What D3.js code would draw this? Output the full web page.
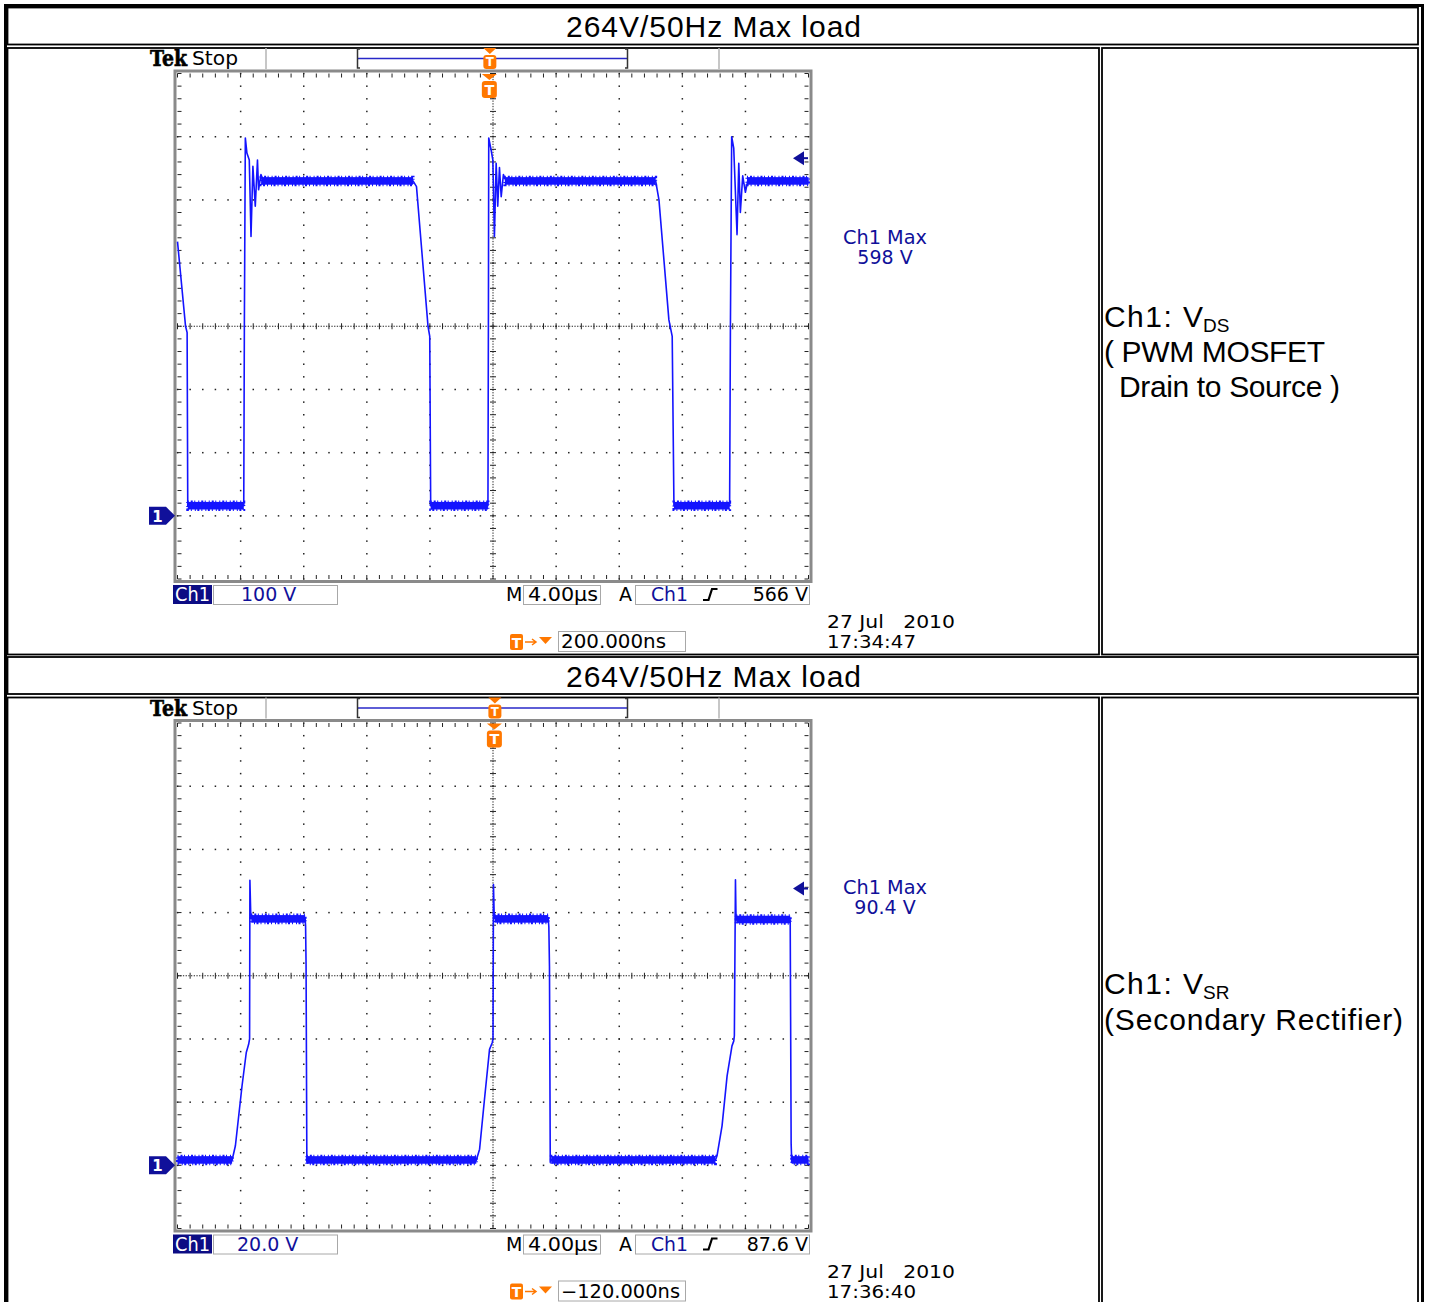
<!DOCTYPE html>
<html>
<head>
<meta charset="utf-8">
<script src="https://cdnjs.cloudflare.com/ajax/libs/d3/7.8.5/d3.min.js"></script>
<style>
  body { margin: 0; background: #fff; }
  svg { display: block; }
</style>
</head>
<body>
<script>
// titles of the two table rows
var rowTitles = ["264V/50Hz Max load", "264V/50Hz Max load"];

// traces: [time in µs from left edge of screen (4 µs/div), volts]
var vdsTrace = [
  [0.00, 434], [0.51, 300], [0.61, 290], [0.65, 16],
  [4.20, 16], [4.24, 310], [4.30, 598], [4.40, 574], [4.55, 563], [4.66, 442],
  [4.78, 553], [4.93, 490], [5.07, 563], [5.14, 516], [5.29, 540], [5.45, 530],
  [14.93, 530], [15.15, 521], [15.88, 300], [15.99, 284], [16.05, 16],
  [19.68, 16], [19.71, 320], [19.73, 598], [19.88, 579], [19.99, 563], [20.09, 442],
  [20.20, 558], [20.30, 490], [20.41, 551], [20.52, 505], [20.66, 540], [20.83, 530],
  [30.31, 530], [30.52, 500], [31.15, 310], [31.36, 284], [31.47, 16],
  [35.00, 16], [35.05, 300], [35.13, 600], [35.26, 582], [35.47, 445], [35.58, 558],
  [35.68, 480], [35.83, 538], [36.00, 512], [36.15, 530],
  [40.00, 530]
];
// noisy flat parts: [t0, t1, vLow, vHigh]
var vdsBands = [
  [0.65, 4.20, 10, 22], [16.05, 19.68, 10, 22], [31.47, 35.00, 10, 22],
  [5.30, 14.93, 524, 536], [20.75, 30.31, 524, 536], [36.10, 40.00, 524, 536]
];

var vsrTrace = [
  [0.00, 1.6], [3.46, 1.6], [3.67, 6.2], [4.09, 25.1], [4.36, 35.7], [4.51, 38.3],
  [4.57, 40.0], [4.59, 90.2], [4.64, 80.0], [4.68, 78.3],
  [8.09, 78.3], [8.12, 75.7], [8.15, 63.6], [8.20, 1.0], [8.25, 1.6],
  [18.94, 1.6], [19.15, 5.1], [19.46, 20.9], [19.78, 36.7], [19.95, 38.8],
  [20.00, 40.0], [20.03, 88.9], [20.07, 80.0], [20.10, 78.3],
  [23.50, 78.3], [23.54, 75.5], [23.58, 63.0], [23.63, 1.0], [23.70, 1.6],
  [34.10, 1.6], [34.20, 3.0], [34.52, 12.5], [34.84, 28.3], [35.15, 37.8], [35.26, 39.3],
  [35.30, 41.0], [35.37, 90.4], [35.40, 80.0], [35.42, 77.7],
  [38.84, 77.7], [38.90, 6.7], [38.94, 0.9], [39.00, 1.6],
  [40.00, 1.6]
];
var vsrBands = [
  [0.00, 3.46, 0.5, 2.9], [8.20, 18.94, 0.5, 2.9], [23.70, 34.10, 0.5, 2.9], [38.94, 40.00, 0.5, 2.9],
  [4.68, 8.09, 76.8, 79.2], [20.10, 23.50, 76.8, 79.2], [35.42, 38.84, 76.6, 79.0]
];

// scope readouts
var voltsPerDiv   = [100, 20];
var scaleLabels   = ["100 V", "20.0 V"];
var trigLevels    = [566, 87.6];
var trigLabels    = ["566 V", "87.6 V"];
var maxLabels     = ["598 V", "90.4 V"];
var delays        = [0.2, -0.12];              // µs, trigger to centre
var delayLabels   = ["200.000ns", "\u2212120.000ns"];
var timeLabels    = ["17:34:47", "17:36:40"];
var dateLabel     = "27 Jul   2010";
var timebaseLabel = "4.00\u00b5s";

// right column notes: [main, subscript] then plain lines
var notes = [
  { head: ["Ch1: V", "DS"], lines: ["( PWM MOSFET", "Drain to Source )"] },
  { head: ["Ch1: V", "SR"], lines: ["(Secondary Rectifier)"] }
];

var scopes = [
  { trace: vdsTrace, bands: vdsBands },
  { trace: vsrTrace, bands: vsrBands }
];

var ROW = 649.5;
var blue = "#1414ff", navy = "#10109a", orange = "#ff7800";
var tekFont = "'DejaVu Sans', sans-serif";
var arial = "'Liberation Sans', Arial, sans-serif";

var svg = d3.select("body").append("svg")
    .attr("width", 1429)
    .attr("height", 1302);

svg.append("rect").attr("width", 1429).attr("height", 1302).attr("fill", "#fff");

// ---- table frame ----
var frame = svg.append("g").attr("fill", "none").attr("stroke", "#000");
frame.append("rect").attr("x", 5.5).attr("y", 5.5).attr("width", 1417).attr("height", 1400).attr("stroke-width", 3);

var cells = [];
[0, 1].forEach(function(i) {
  var dy = i * ROW;
  cells.push([7.5, 7.5 + dy, 1418, 44.5 + dy]);
  cells.push([7.5, 48 + dy, 1099, 654.5 + dy]);
  cells.push([1102, 48 + dy, 1418, 654.5 + dy]);
});
frame.selectAll("rect.cell").data(cells).enter().append("rect")
    .attr("class", "cell")
    .attr("x", function(d) { return d[0]; })
    .attr("y", function(d) { return d[1]; })
    .attr("width", function(d) { return d[2] - d[0]; })
    .attr("height", function(d) { return d[3] - d[1]; })
    .attr("stroke-width", 1.8);

// ---- titles ----
svg.selectAll("text.title").data(rowTitles).enter().append("text")
    .attr("class", "title")
    .attr("x", 713.5)
    .attr("y", function(d, i) { return 37 + i * ROW; })
    .attr("text-anchor", "middle")
    .attr("font-family", arial)
    .attr("font-size", 30)
    .attr("textLength", 295)
    .attr("lengthAdjust", "spacing")
    .text(function(d) { return d; });

// ---- right column notes ----
var headBase = [327, 994];
var lineGap = [35, 36];
var lineLen = [[221, 221], [299]];
notes.forEach(function(n, i) {
  svg.append("text")
      .attr("x", 1104).attr("y", headBase[i])
      .attr("font-family", arial).attr("font-size", 30)
      .attr("textLength", 99).attr("lengthAdjust", "spacing")
      .text(n.head[0]);
  svg.append("text")
      .attr("x", 1203).attr("y", headBase[i] + 5)
      .attr("font-family", arial).attr("font-size", 19)
      .text(n.head[1]);
  n.lines.forEach(function(line, j) {
    var x0 = line.charAt(0) === "D" ? 1119 : 1104;
    svg.append("text")
        .attr("x", x0)
        .attr("y", headBase[i] + lineGap[i] * (j + 1))
        .attr("font-family", arial)
        .attr("font-size", 30)
        .attr("textLength", lineLen[i][j]).attr("lengthAdjust", "spacing")
        .text(line);
  });
});

// ---- scope screens ----
function tMarker(g, cx, top, w, h) {
  g.append("path")
      .attr("d", "M" + (cx - w / 2) + "," + top + "L" + (cx + w / 2) + "," + top + "L" + cx + "," + (top + 6) + "Z")
      .attr("fill", orange);
  g.append("rect").attr("x", cx - w / 2).attr("y", top + 7).attr("width", w).attr("height", h)
      .attr("rx", 3).attr("fill", orange);
  g.append("text").attr("x", cx).attr("y", top + 7 + h * 0.8).attr("text-anchor", "middle")
      .attr("font-family", tekFont).attr("font-weight", "bold").attr("font-size", h * 0.85)
      .attr("fill", "#fff").text("T");
}

scopes.forEach(function(s, i) {
  var g = svg.append("g").attr("transform", "translate(0," + (i * ROW) + ")");
  var vd = voltsPerDiv[i];
  var x = d3.scaleLinear().domain([0, 40]).range([177.5, 808.5]);
  var y = d3.scaleLinear().domain([-vd, 7 * vd]).range([579, 73.5]);

  // header
  g.append("text").attr("x", 150).attr("y", 66)
      .attr("font-family", "'DejaVu Serif', serif").attr("font-weight", "bold")
      .attr("font-size", 22).attr("textLength", 37).attr("lengthAdjust", "spacingAndGlyphs")
      .attr("stroke", "#000").attr("stroke-width", 0.6)
      .text("Tek");
  g.append("text").attr("x", 192).attr("y", 65)
      .attr("font-family", tekFont).attr("font-size", 19)
      .attr("textLength", 46).attr("lengthAdjust", "spacingAndGlyphs")
      .text("Stop");
  g.selectAll("line.sep").data([266, 719]).enter().append("line")
      .attr("class", "sep")
      .attr("x1", function(d) { return d; }).attr("x2", function(d) { return d; })
      .attr("y1", 48).attr("y2", 69)
      .attr("stroke", "#b4b4b4").attr("stroke-width", 1.5);
  g.append("line").attr("x1", 357).attr("x2", 628).attr("y1", 58.5).attr("y2", 58.5)
      .attr("stroke", "#2828c8").attr("stroke-width", 1.5);
  g.append("path")
      .attr("d", "M360,49H357.5V68H360M625,49H627.5V68H625")
      .attr("fill", "none").attr("stroke", "#333").attr("stroke-width", 1.5);

  var tx = x(20 - delays[i]);
  tMarker(g, tx, 48, 13, 14);

  // graticule
  var grat = g.append("g");
  grat.append("rect")
      .attr("x", x(0) - 2.5).attr("y", y(7 * vd) - 2.5)
      .attr("width", x(40) - x(0) + 5).attr("height", y(-vd) - y(7 * vd) + 5)
      .attr("fill", "none").attr("stroke", "#8a8a8a").attr("stroke-width", 3);

  var xMin = d3.range(0, 40.001, 0.8);
  var yMin = d3.range(-vd, 7 * vd + vd / 100, vd / 5);
  var xMaj = d3.range(4, 37, 4).filter(function(t) { return t !== 20; });
  var yMaj = d3.range(0, 6.5 * vd, vd).filter(function(v) { return Math.abs(v - 3 * vd) > 1e-6; });

  var dots = [];
  xMaj.forEach(function(t) { yMin.forEach(function(v) { dots.push([x(t), y(v)]); }); });
  yMaj.forEach(function(v) { xMin.forEach(function(t) { dots.push([x(t), y(v)]); }); });
  grat.selectAll("rect.dot").data(dots).enter().append("rect")
      .attr("class", "dot")
      .attr("x", function(d) { return d[0] - 0.7; })
      .attr("y", function(d) { return d[1] - 0.7; })
      .attr("width", 1.5).attr("height", 1.5)
      .attr("fill", "#222");

  // centre cross
  grat.append("line").attr("x1", x(20)).attr("x2", x(20)).attr("y1", y(7 * vd)).attr("y2", y(-vd))
      .attr("stroke", "#222").attr("stroke-dasharray", "1.3,1.4");
  grat.append("line").attr("x1", x(0)).attr("x2", x(40)).attr("y1", y(3 * vd)).attr("y2", y(3 * vd))
      .attr("stroke", "#222").attr("stroke-dasharray", "1.3,1.4");

  var ticks = [];
  xMin.forEach(function(t) {
    ticks.push([x(t), y(3 * vd) - 3, x(t), y(3 * vd) + 3]);
    ticks.push([x(t), y(7 * vd), x(t), y(7 * vd) + 4]);
    ticks.push([x(t), y(-vd) - 4, x(t), y(-vd)]);
  });
  yMin.forEach(function(v) {
    ticks.push([x(20) - 3, y(v), x(20) + 3, y(v)]);
    ticks.push([x(0), y(v), x(0) + 4, y(v)]);
    ticks.push([x(40) - 4, y(v), x(40), y(v)]);
  });
  grat.selectAll("line.tick").data(ticks).enter().append("line")
      .attr("class", "tick")
      .attr("x1", function(d) { return d[0]; }).attr("y1", function(d) { return d[1]; })
      .attr("x2", function(d) { return d[2]; }).attr("y2", function(d) { return d[3]; })
      .attr("stroke", "#222").attr("stroke-width", 1);

  tMarker(g, tx - 0.5, 74, 15, 17);

  // waveform
  g.selectAll("rect.band").data(s.bands).enter().append("rect")
      .attr("class", "band")
      .attr("x", function(d) { return x(d[0]); })
      .attr("width", function(d) { return x(d[1]) - x(d[0]); })
      .attr("y", function(d) { return y(d[3]); })
      .attr("height", function(d) { return y(d[2]) - y(d[3]); })
      .attr("fill", blue)
      .attr("stroke", blue).attr("stroke-width", 3).attr("stroke-dasharray", "1,2,2,1.5,1,3");
  g.append("path")
      .datum(s.trace)
      .attr("d", d3.line().x(function(d) { return x(d[0]); }).y(function(d) { return y(d[1]); }))
      .attr("fill", "none").attr("stroke", blue).attr("stroke-width", 1.6)
      .attr("stroke-linejoin", "round");

  // ground marker
  var gy = y(0);
  g.append("path")
      .attr("d", "M149," + (gy - 9) + "H166L175," + gy + "L166," + (gy + 9) + "H149Z")
      .attr("fill", navy);
  g.append("text").attr("x", 157.5).attr("y", gy + 6).attr("text-anchor", "middle")
      .attr("font-family", tekFont).attr("font-weight", "bold").attr("font-size", 15)
      .attr("fill", "#fff").text("1");

  // trigger level arrow
  var ty = y(trigLevels[i]);
  g.append("path")
      .attr("d", "M793," + ty + "L804," + (ty - 7) + "V" + (ty + 7) + "Z")
      .attr("fill", navy);
  g.append("line").attr("x1", 803).attr("x2", 808).attr("y1", ty).attr("y2", ty)
      .attr("stroke", navy).attr("stroke-width", 2);

  // Ch1 Max readout
  var mx = g.append("g").attr("font-family", tekFont).attr("font-size", 19)
      .attr("fill", navy).attr("text-anchor", "middle");
  mx.append("text").attr("x", 885).attr("y", 244)
      .attr("textLength", 84).attr("lengthAdjust", "spacingAndGlyphs").text("Ch1 Max");
  mx.append("text").attr("x", 885).attr("y", 264).text(maxLabels[i]);

  // bottom readouts
  var rd = g.append("g").attr("font-family", tekFont).attr("font-size", 19);
  rd.append("rect").attr("x", 173).attr("y", 585).attr("width", 39).attr("height", 19).attr("fill", "#0c0c84");
  rd.append("text").attr("x", 175).attr("y", 601).attr("fill", "#fff")
      .attr("textLength", 35).attr("lengthAdjust", "spacingAndGlyphs").text("Ch1");
  var boxes = [[213.5, 585.5, 124, 19], [523.5, 585.5, 77, 19], [635.5, 585.5, 174, 19], [558.5, 631.5, 127, 20]];
  rd.selectAll("rect.box").data(boxes).enter().append("rect")
      .attr("class", "box")
      .attr("x", function(d) { return d[0]; }).attr("y", function(d) { return d[1]; })
      .attr("width", function(d) { return d[2]; }).attr("height", function(d) { return d[3]; })
      .attr("fill", "none").attr("stroke", "#a8a8a8").attr("stroke-width", 1);
  rd.append("text").attr("x", i === 0 ? 241 : 237).attr("y", 601).attr("fill", navy).text(scaleLabels[i]);
  rd.append("text").attr("x", 506).attr("y", 601).text("M");
  rd.append("text").attr("x", 528).attr("y", 601)
      .attr("textLength", 70).attr("lengthAdjust", "spacingAndGlyphs").text(timebaseLabel);
  rd.append("text").attr("x", 619).attr("y", 601).text("A");
  rd.append("text").attr("x", 651).attr("y", 601).attr("fill", navy)
      .attr("textLength", 37).attr("lengthAdjust", "spacingAndGlyphs").text("Ch1");
  rd.append("path").attr("d", "M703,600H708.5L712,589H717.5")
      .attr("fill", "none").attr("stroke", "#000").attr("stroke-width", 2.2);
  rd.append("text").attr("x", 808).attr("y", 601).attr("text-anchor", "end").text(trigLabels[i]);

  // delay readout
  rd.append("rect").attr("x", 510).attr("y", 634).attr("width", 13).attr("height", 16).attr("rx", 2).attr("fill", orange);
  rd.append("text").attr("x", 516.5).attr("y", 647.5).attr("text-anchor", "middle")
      .attr("font-size", 14).attr("font-weight", "bold").attr("fill", "#fff").text("T");
  rd.append("path").attr("d", "M525,642H535M532,639L536,642L532,645")
      .attr("fill", "none").attr("stroke", orange).attr("stroke-width", 1.5);
  rd.append("path").attr("d", "M539,637H552L545.5,644Z").attr("fill", orange);
  rd.append("text").attr("x", 561).attr("y", 648)
      .attr("textLength", i === 0 ? 105 : 119).attr("lengthAdjust", "spacingAndGlyphs")
      .text(delayLabels[i]);

  var dt = g.append("g").attr("font-family", tekFont).attr("font-size", 17);
  dt.append("text").attr("x", 827).attr("y", 628).style("white-space", "pre")
      .attr("textLength", 128).attr("lengthAdjust", "spacingAndGlyphs").text(dateLabel);
  dt.append("text").attr("x", 827).attr("y", 648)
      .attr("textLength", 89).attr("lengthAdjust", "spacingAndGlyphs").text(timeLabels[i]);
});
</script>
</body>
</html>
